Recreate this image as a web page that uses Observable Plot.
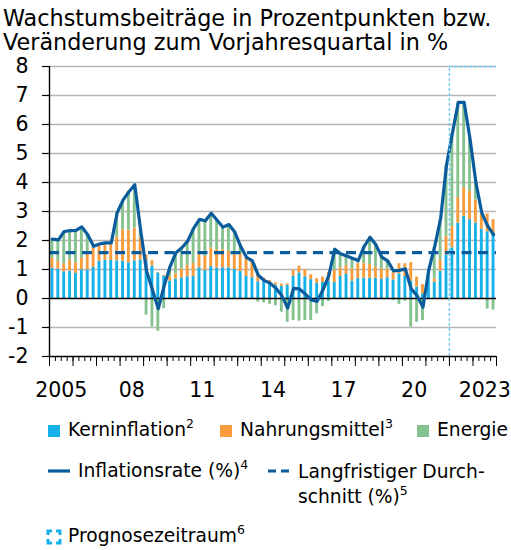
<!DOCTYPE html>
<html>
<head>
<meta charset="utf-8">
<script src="https://cdn.jsdelivr.net/npm/d3@7"></script>
<script src="https://cdn.jsdelivr.net/npm/@observablehq/plot@0.6"></script>
<style>
  html, body { margin: 0; padding: 0; background: #fff; }
  body { font-family: "DejaVu Sans", sans-serif; color: #000; }
  #wrap { position: relative; width: 511px; height: 550px; overflow: hidden; }
  .title { position: absolute; left: 3px; top: 6px; font-size: 22.3px; line-height: 24px; white-space: nowrap; }
  #chart { position: absolute; left: 0; top: 54px; }
  .lg { position: absolute; font-size: 18.7px; line-height: 18.7px; white-space: nowrap; }
  .sw { position: absolute; }
  sup { font-size: 12.5px; position: relative; top: -1px; vertical-align: super; line-height: 0; }
</style>
</head>
<body>
<div id="wrap">
  <div class="title">Wachstumsbeiträge in Prozentpunkten bzw.<br>Veränderung zum Vorjahresquartal in %</div>
  <div id="chart"></div>
  <div id="legend"></div>
</div>
<script>
// ---------- data ----------
const firstYear = 2005;
const seriesNames = ["Kerninflation", "Nahrungsmittel", "Energie"];
const seriesColors = ["#17b1e9", "#f99c3c", "#86c28f"];
const lineColor = "#0b5c9c";
const forecastColor = "#6ccbf2";

// contributions in percentage points, quarterly 2005 Q1 – 2023 Q4
const core = [1.04,1.01,0.92,0.94,0.87,0.99,0.99,1.07,1.28,1.32,1.31,1.30,1.29,1.23,1.30,1.33,
  1.30,1.12,0.88,0.76,0.60,0.67,0.71,0.75,0.76,1.06,0.97,1.10,1.05,1.06,1.06,1.00,
  0.93,0.76,0.72,0.58,0.58,0.52,0.46,0.42,0.45,0.77,0.88,0.75,0.65,0.52,0.55,0.60,
  0.55,0.76,0.83,0.60,0.69,0.70,0.70,0.70,0.66,0.72,0.64,0.85,0.76,0.60,0.39,0.16,
  0.76,0.56,0.94,1.50,1.75,2.60,2.84,2.72,2.60,2.39,2.30,2.23];
const food = [0.36,0.27,0.28,0.39,0.36,0.41,0.53,0.66,0.54,0.51,0.54,0.82,1.08,1.13,1.13,0.77,
  0.20,0.18,0.02,0.03,0.15,0.18,0.30,0.39,0.45,0.49,0.48,0.65,0.63,0.62,0.57,0.57,
  0.59,0.59,0.56,0.28,0.12,0.10,0.08,0.08,0.05,0.20,0.24,0.25,0.17,0.16,0.19,0.30,
  0.42,0.30,0.31,0.42,0.51,0.50,0.47,0.38,0.36,0.30,0.25,0.35,0.44,0.64,0.35,0.32,
  0.03,0.12,0.39,0.65,0.73,0.88,0.98,0.98,0.80,0.51,0.62,0.49];
const energy = [0.65,0.74,1.11,1.01,1.12,1.07,0.68,0.07,0.06,0.09,0.07,0.83,1.02,1.32,1.49,0.25,
  -0.57,-0.98,-1.13,-0.35,0.35,0.73,0.74,0.84,1.21,1.18,1.23,1.19,1.02,0.78,0.92,0.72,
  0.28,0.07,0.02,-0.12,-0.15,-0.20,-0.25,-0.47,-0.82,-0.76,-0.78,-0.76,-0.76,-0.53,-0.28,-0.10,
  0.73,0.48,0.33,0.37,0.11,0.60,0.94,0.77,0.41,0.28,-0.07,-0.20,-0.09,-0.99,-0.82,-0.76,
  0.21,1.12,1.43,2.45,3.22,3.28,2.94,1.80,0.60,-0.03,-0.36,-0.40];
// inflation rate in %
const inflation = [2.05,2.02,2.31,2.34,2.35,2.47,2.20,1.80,1.88,1.92,1.92,2.95,3.39,3.68,3.92,2.35,
  0.95,0.30,-0.35,0.44,1.10,1.58,1.75,1.98,2.42,2.73,2.68,2.94,2.70,2.46,2.55,2.29,
  1.80,1.42,1.30,0.80,0.62,0.53,0.35,0.10,-0.33,0.35,0.33,0.15,-0.05,-0.10,0.30,0.80,
  1.70,1.54,1.47,1.39,1.31,1.80,2.11,1.85,1.43,1.30,0.95,0.97,1.02,0.33,0.10,-0.30,
  1.00,1.80,2.76,4.60,5.70,6.76,6.76,5.50,4.00,2.95,2.50,2.20];
const longRunAverage = 1.58;
const forecastStart = 2022;
const yTicks = [-2,-1,0,1,2,3,4,5,6,7,8];
const xLabelYears = [2005, 2008, 2011, 2014, 2017, 2020, 2023];
const xTickLabels = ["2005", "08", "11", "14", "17", "20", "2023"];

// ---------- derived tables ----------
const quarters = core.map((_, i) => firstYear + i / 4);
const lastYear = firstYear + core.length / 4;
const barData = quarters.flatMap((t, i) => [
  {t, series: seriesNames[0], value: core[i]},
  {t, series: seriesNames[1], value: food[i]},
  {t, series: seriesNames[2], value: energy[i]}
]);
const lineData = quarters.map((t, i) => ({t: t + 0.125, value: inflation[i]}));
const quarterTicks = d3.range(firstYear * 4, lastYear * 4 + 1).map(q => q / 4);
const yearTicks = d3.range(firstYear, lastYear + 1);
const labelPos = xLabelYears.map(y => y + 0.5);

const chart = Plot.plot({
  width: 511,
  height: 350,
  marginLeft: 49,
  marginRight: 15,
  marginTop: 12,
  marginBottom: 48,
  x: {type: "linear", domain: [firstYear, lastYear]},
  y: {domain: [-2, 8]},
  color: {domain: seriesNames, range: seriesColors},
  style: {fontFamily: "DejaVu Sans", fontSize: "20.5px", color: "#000", background: "transparent", overflow: "visible"},
  marks: [
    Plot.gridY({ticks: yTicks.filter(v => v !== 0 && v !== -2), stroke: "#b5b5b5", strokeOpacity: 1, strokeWidth: 1.3}),
    Plot.rectY(barData, {x: "t", interval: 0.25, y: "value", fill: "series", insetLeft: 1.5, insetRight: 1.5}),
    Plot.ruleY([0], {stroke: "#000", strokeWidth: 1.4}),
    Plot.ruleY([longRunAverage], {stroke: lineColor, strokeWidth: 3.2, strokeDasharray: "10,6.5"}),
    Plot.lineY(lineData, {x: "t", y: "value", stroke: lineColor, strokeWidth: 3.2, strokeLinejoin: "round", strokeLinecap: "round"}),
    Plot.ruleX([forecastStart], {y1: -2, y2: 8, stroke: forecastColor, strokeWidth: 1.4, strokeDasharray: "3,2"}),
    Plot.ruleY([8], {x1: forecastStart, x2: lastYear, stroke: forecastColor, strokeWidth: 1.4, strokeDasharray: "3,2"}),
    Plot.ruleX([firstYear], {stroke: "#000", strokeWidth: 1.4}),
    Plot.ruleY([-2], {stroke: "#000", strokeWidth: 1.4}),
    Plot.axisY({ticks: yTicks, tickSize: 7, tickPadding: 14, tickFormat: d => String(d), label: null, stroke: "#000", strokeWidth: 1.2}),
    Plot.axisX({ticks: quarterTicks, tickSize: 5, tickFormat: () => "", label: null, stroke: "#000", strokeWidth: 1}),
    Plot.axisX({ticks: yearTicks, tickSize: 10, tickFormat: () => "", label: null, stroke: "#000", strokeWidth: 1}),
    Plot.axisX({ticks: labelPos, tickSize: 0, tickPadding: 26, label: null,
      tickFormat: d => xTickLabels[xLabelYears.indexOf(Math.round(d - 0.5))]})
  ]
});
document.getElementById("chart").append(chart);

// ---------- legend ----------
const lg = document.getElementById("legend");
function sq(x, y, color) {
  return `<div class="sw" style="left:${x}px;top:${y}px;width:12px;height:12px;background:${color}"></div>`;
}
lg.innerHTML =
  sq(48, 425, seriesColors[0]) +
  `<div class="lg" style="left:68px;top:421px">${seriesNames[0]}<sup>2</sup></div>` +
  sq(220, 425, seriesColors[1]) +
  `<div class="lg" style="left:240px;top:421px">${seriesNames[1]}<sup>3</sup></div>` +
  sq(417, 425, seriesColors[2]) +
  `<div class="lg" style="left:437px;top:421px">${seriesNames[2]}</div>` +
  `<svg class="sw" style="left:46px;top:465px" width="28" height="12"><line x1="2" y1="6" x2="24" y2="6" stroke="${lineColor}" stroke-width="3.2"/></svg>` +
  `<div class="lg" style="left:78px;top:462px">Inflationsrate (%)<sup>4</sup></div>` +
  `<svg class="sw" style="left:266px;top:465px" width="28" height="12"><line x1="2" y1="6" x2="23" y2="6" stroke="${lineColor}" stroke-width="3.2" stroke-dasharray="8,5"/></svg>` +
  `<div class="lg" style="left:298px;top:459px;line-height:25px">Langfristiger Durch-<br>schnitt (%)<sup>5</sup></div>` +
  `<svg class="sw" style="left:46px;top:529px" width="16" height="16"><rect x="2" y="2" width="12" height="12" fill="none" stroke="#17b1e9" stroke-width="3" stroke-dasharray="8,4" stroke-dashoffset="4"/></svg>` +
  `<div class="lg" style="left:68px;top:527px">Prognosezeitraum<sup>6</sup></div>`;
</script>
</body>
</html>
